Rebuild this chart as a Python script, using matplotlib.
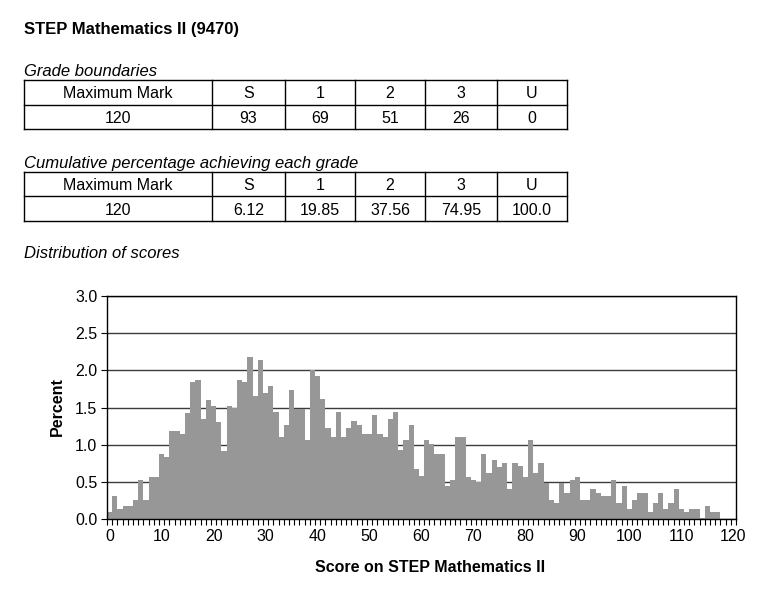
import matplotlib
matplotlib.use("Agg")
import matplotlib.pyplot as plt
import numpy as np

plt.rcParams['font.family'] = ['Liberation Sans', 'DejaVu Sans']

# data
title = "STEP Mathematics II (9470)"
grade_headers = ["Maximum Mark", "S", "1", "2", "3", "U"]
boundary_row = ["120", "93", "69", "51", "26", "0"]
cumulative_row = ["120", "6.12", "19.85", "37.56", "74.95", "100.0"]

scores = list(range(0, 121))
percent = [
    0.09, 0.31, 0.13, 0.17, 0.17, 0.26, 0.52, 0.26, 0.56, 0.56,   # 0-9
    0.88, 0.83, 1.18, 1.18, 1.14, 1.43, 1.84, 1.87, 1.34, 1.60,   # 10-19
    1.52, 1.31, 0.91, 1.52, 1.50, 1.87, 1.84, 2.18, 1.65, 2.14,   # 20-29
    1.69, 1.79, 1.44, 1.10, 1.26, 1.74, 1.48, 1.48, 1.06, 2.00,   # 30-39
    1.93, 1.61, 1.23, 1.10, 1.44, 1.10, 1.23, 1.32, 1.27, 1.14,   # 40-49
    1.14, 1.40, 1.14, 1.10, 1.35, 1.44, 0.93, 1.06, 1.26, 0.67,   # 50-59
    0.58, 1.06, 1.01, 0.88, 0.88, 0.44, 0.52, 1.10, 1.10, 0.57,   # 60-69
    0.52, 0.50, 0.88, 0.62, 0.79, 0.70, 0.75, 0.40, 0.75, 0.71,   # 70-79
    0.57, 1.06, 0.62, 0.75, 0.48, 0.26, 0.22, 0.48, 0.35, 0.52,   # 80-89
    0.57, 0.26, 0.26, 0.40, 0.35, 0.31, 0.31, 0.52, 0.22, 0.44,   # 90-99
    0.13, 0.26, 0.35, 0.35, 0.09, 0.22, 0.35, 0.13, 0.22, 0.40,   # 100-109
    0.13, 0.09, 0.13, 0.13, 0.02, 0.18, 0.09, 0.09, 0.0, 0.0,     # 110-119
    0.0,                                                          # 120
]

W, H = 776, 595
fig = plt.figure(figsize=(W / 100, H / 100), dpi=100)

def fx(px):
    return px / W

def fy(py):
    return 1 - py / H

# header texts
fig.text(fx(24), fy(34), title, fontsize=12, fontweight='bold', va='baseline')
fig.text(fx(24), fy(76), "Grade boundaries", fontsize=12, style='italic', va='baseline')
fig.text(fx(24), fy(168), "Cumulative percentage achieving each grade", fontsize=12,
         style='italic', va='baseline')
fig.text(fx(24), fy(258), "Distribution of scores", fontsize=12, style='italic', va='baseline')

col_edges = [24, 212, 285, 355, 425, 497, 567]

def draw_table(top, mid, bottom, row2):
    for yy in (top, mid, bottom):
        fig.add_artist(plt.Line2D([fx(col_edges[0]), fx(col_edges[-1])], [fy(yy), fy(yy)],
                                  color='black', lw=1.0))
    for xx in col_edges:
        fig.add_artist(plt.Line2D([fx(xx), fx(xx)], [fy(top), fy(bottom)],
                                  color='black', lw=1.0))
    for i in range(len(grade_headers)):
        cx = (col_edges[i] + col_edges[i + 1]) / 2
        fig.text(fx(cx), fy(mid - 6), grade_headers[i], fontsize=11.5, ha='center', va='baseline')
        fig.text(fx(cx), fy(bottom - 6), row2[i], fontsize=11.5, ha='center', va='baseline')

draw_table(80, 104.5, 129, boundary_row)
draw_table(172, 196, 220.5, cumulative_row)

# histogram
ax = fig.add_axes([fx(107), fy(519), fx(736) - fx(107), fy(296) - fy(519)])
ax.bar(scores, percent, width=1.0, color='#979797', edgecolor='none', zorder=2)
ax.set_xlim(-0.5, 120.5)
ax.set_ylim(0, 3.0)
ax.set_yticks(np.arange(0, 3.01, 0.5))
ax.set_yticklabels([f"{v:.1f}" for v in np.arange(0, 3.01, 0.5)])
ax.yaxis.grid(True, color='#3c3c3c', lw=1.0, zorder=1)
ax.set_axisbelow(True)
ax.set_xticks(range(0, 121, 10))
ax.set_xticks(np.arange(-0.5, 121, 1.0), minor=True)
ax.tick_params(axis='x', which='major', length=0, pad=7, labelsize=11.5)
ax.tick_params(axis='x', which='minor', length=4, width=0.8, direction='out')
ax.tick_params(axis='y', which='major', length=4, width=0.8, direction='out', labelsize=11.5, pad=3)
for s in ax.spines.values():
    s.set_color('black')
    s.set_linewidth(1.0)

fig.text(fx(57), fy(407), "Percent", fontsize=11.5, fontweight='bold', rotation=90,
         ha='center', va='center')
fig.text(fx(430), fy(567), "Score on STEP Mathematics II", fontsize=11.5, fontweight='bold',
         ha='center', va='center')

fig.savefig("out.png", dpi=100)
